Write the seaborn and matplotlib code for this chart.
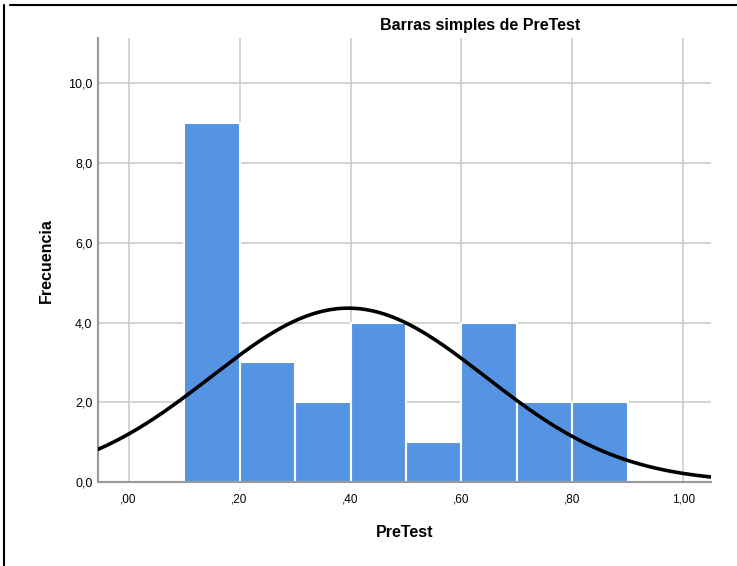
import numpy as np
import pandas as pd
import matplotlib
matplotlib.use('Agg')
import matplotlib.pyplot as plt
import seaborn as sns

# Histogram
bin_edges = [0.1, 0.2, 0.3, 0.4, 0.5, 0.6, 0.7, 0.8, 0.9]
counts = [9, 3, 2, 4, 1, 4, 2, 2]
x_ticks = [0.0, 0.2, 0.4, 0.6, 0.8, 1.0]
x_tick_labels = [",00", ",20", ",40", ",60", ",80", "1,00"]
y_ticks = [0, 2, 4, 6, 8, 10]
y_tick_labels = ["0,0", "2,0", "4,0", "6,0", "8,0", "10,0"]

# Fitted normal curve (mean / sd)
MEAN = 0.396
SD = 0.247
BIN_WIDTH = 0.1

sns.set_style("white")
plt.rcParams['font.family'] = ['Liberation Sans', 'DejaVu Sans']
plt.rcParams['text.color'] = 'black'
plt.rcParams['axes.labelcolor'] = 'black'
plt.rcParams['xtick.color'] = 'black'
plt.rcParams['ytick.color'] = 'black'

mids = [(a + b) / 2 for a, b in zip(bin_edges[:-1], bin_edges[1:])]
df = pd.DataFrame({"PreTest": mids, "n": counts})

fig = plt.figure(figsize=(7.37, 5.66), dpi=100)
ax = fig.add_axes([0.133, 0.148, 0.832, 0.785])

for yv in y_ticks:
    ax.axhline(yv, color='#cccccc', lw=1.2, zorder=0)
for xv in x_ticks:
    ax.axvline(xv, color='#cccccc', lw=1.2, zorder=0)

sns.histplot(data=df, x="PreTest", weights="n", bins=bin_edges, ax=ax,
             color='#5594e2', alpha=1, edgecolor='white', linewidth=1.5, zorder=2)

n_total = sum(counts)
xs = np.linspace(-0.055, 1.05, 300)
ys = n_total * BIN_WIDTH * np.exp(-0.5 * ((xs - MEAN) / SD) ** 2) / (SD * np.sqrt(2 * np.pi))
sns.lineplot(x=xs, y=ys, ax=ax, color='black', lw=2.6, zorder=3)

ax.set_xlim(-0.055, 1.05)
ax.set_ylim(0, 11.13)
ax.set_xticks(x_ticks)
ax.set_xticklabels(x_tick_labels, fontsize=8.5)
ax.set_yticks(y_ticks)
ax.set_yticklabels(y_tick_labels, fontsize=9)
ax.tick_params(axis='x', length=0, pad=8)
ax.tick_params(axis='y', length=0, pad=4)
ax.set_xlabel("PreTest", fontsize=11.5, fontweight='bold', labelpad=14)
ax.set_ylabel("Frecuencia", fontsize=11.5, fontweight='bold', labelpad=10)

for side in ['top', 'right']:
    ax.spines[side].set_visible(False)
for side in ['left', 'bottom']:
    ax.spines[side].set_color('#999999')
    ax.spines[side].set_linewidth(1.5)

fig.text(0.652, 0.955, "Barras simples de PreTest", ha='center', va='center',
         fontsize=11.5, fontweight='bold')

# outer frame of the screenshot
fig.add_artist(plt.Line2D([0.005, 0.005], [0, 0.992], color='black', lw=1.5,
                          transform=fig.transFigure))
fig.add_artist(plt.Line2D([0.013, 1.0], [0.991, 0.991], color='black', lw=1.5,
                          transform=fig.transFigure))

fig.savefig("out.png", dpi=100)
